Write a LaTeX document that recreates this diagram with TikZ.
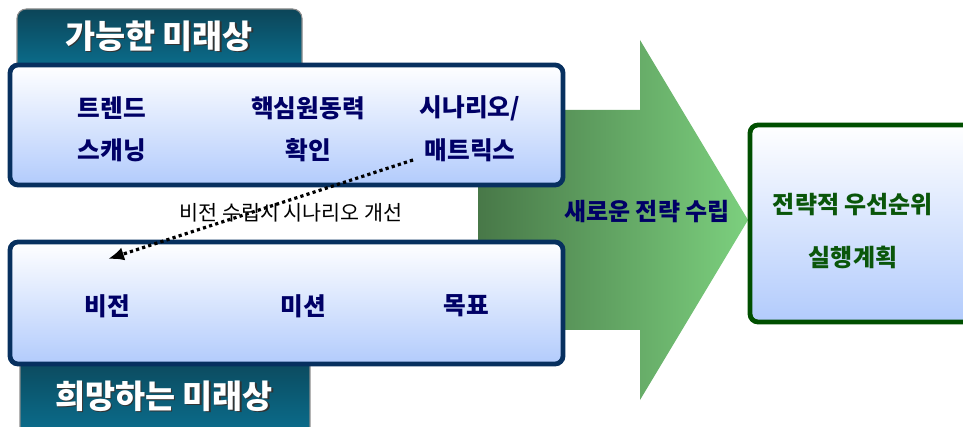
\documentclass[tikz,border=0pt]{standalone}
\usepackage{fontspec}
\setmainfont{Noto Sans CJK KR}
\usepackage{tikz}
\usetikzlibrary{arrows.meta}

\definecolor{boxnavy}{HTML}{07305F}
\definecolor{textnavy}{HTML}{000066}
\definecolor{tabtop}{HTML}{0C4558}
\definecolor{tabbot}{HTML}{0A7698}
\definecolor{paleblue}{HTML}{B2CBFC}
\definecolor{arrowdark}{HTML}{487848}
\definecolor{arrowlight}{HTML}{7CD07E}
\definecolor{boxgreen}{HTML}{004F00}
\definecolor{textgreen}{HTML}{0A560A}

\tikzset{
  futurebox/.style={draw=boxnavy, line width=3.6pt, rounded corners=6pt, top color=white, bottom color=paleblue},
  tabbox/.style={draw=black!45, line width=0.8pt, rounded corners=7pt, top color=tabtop, bottom color=tabbot},
  item/.style={text=textnavy, font=\bfseries\fontsize{18.5}{20}\selectfont},
  goalitem/.style={text=textgreen, font=\bfseries\fontsize{18}{20}\selectfont},
  tabtitle/.style={text=white, font=\bfseries\fontsize{24.5}{26}\selectfont},
  tabshadow/.style={text=black!80, font=\bfseries\fontsize{24.5}{26}\selectfont}
}

\begin{document}
\begin{tikzpicture}[x=0.75pt, y=-0.75pt]
    \useasboundingbox (0,0) rectangle (963,427);
    \clip (0,0) rectangle (963,427);

    % big arrow behind everything
    \shade[left color=arrowdark, right color=arrowlight] (478,110) -- (640,110) -- (640,40) -- (748,220) -- (640,400) -- (640,330) -- (478,330) -- cycle;
    \node[item, font=\bfseries\fontsize{18}{20}\selectfont] (newplan) at (647,212) {새로운 전략 수립};

    % tabs
    \path[tabbox] (17,9) rectangle (302,80);
    \path[tabbox] (20,352) rectangle (310,450);
    \node[tabshadow] at (160.5,37.5) {가능한 미래상};
    \node[tabtitle] (possible) at (159,36) {가능한 미래상};
    \node[tabshadow] at (165.5,397.5) {희망하는 미래상};
    \node[tabtitle] (desired) at (164,396) {희망하는 미래상};

    % boxes
    \path[futurebox] (10,65) rectangle (563,185);
    \path[futurebox] (10,242) rectangle (563,364);

    \node[item] (trend) at (112,108) {트렌드};
    \node[item] (scan) at (112,150) {스캐닝};
    \node[item] (driver) at (308,108) {핵심원동력};
    \node[item] (confirm) at (308,150) {확인};
    \node[item] (scenario) at (470,108) {시나리오/};
    \node[item] (matrix) at (470,150) {매트릭스};

    \node[item] (vision) at (107,306) {비전};
    \node[item] (mission) at (303,306) {미션};
    \node[item] (target) at (466,306) {목표};

    % right box
    \path[futurebox, draw=boxgreen] (750,125) rectangle (985,322);
    \node[goalitem] (priority) at (853,205) {전략적 우선순위};
    \node[goalitem] (action) at (853,257) {실행계획};

    % feedback arrow
    \coordinate (fbstart) at (413,160);
    \coordinate (fbend) at (108,259);
    \draw[line width=2.4pt, dash pattern=on 2.4pt off 2.4pt, -{Latex[length=12pt,width=10pt]}] (fbstart) -- (fbend);
    \node[font=\fontsize{15.5}{17}\selectfont] (improve) at (291,213) {비전 수립시 시나리오 개선};
\end{tikzpicture}
\end{document}
